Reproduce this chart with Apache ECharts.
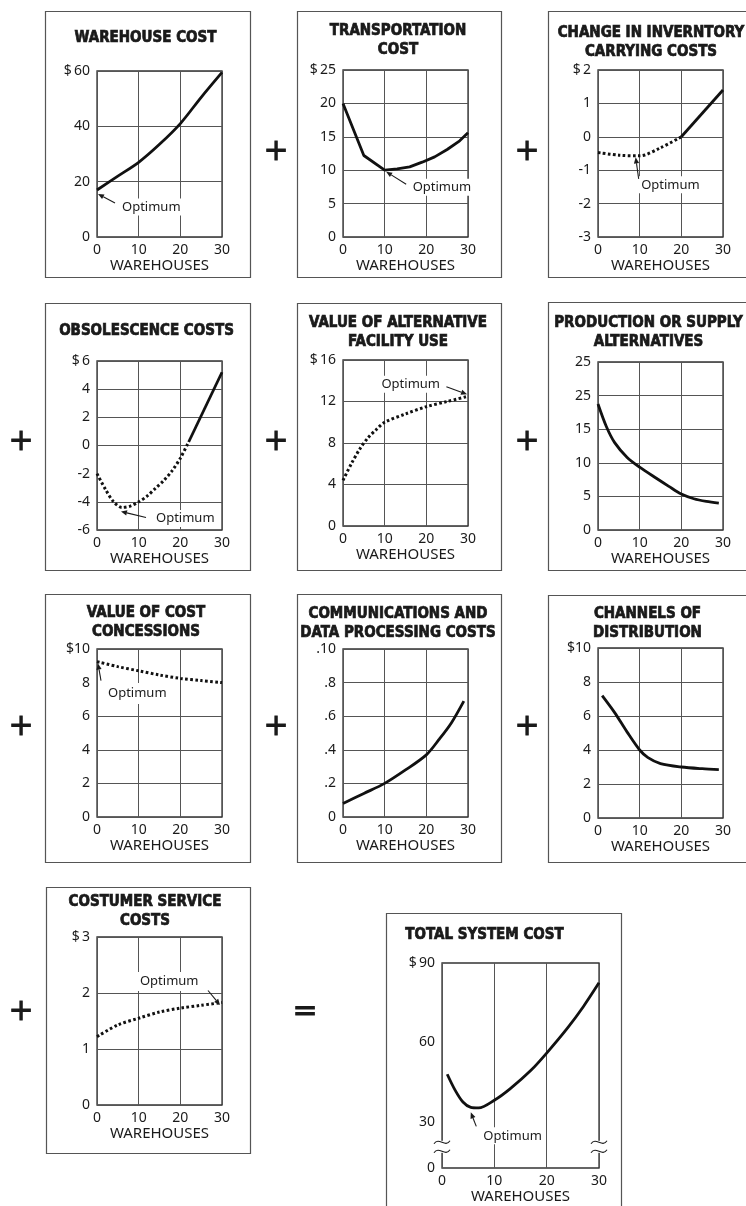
<!DOCTYPE html>
<html><head><meta charset="utf-8">
<script src="https://cdn.jsdelivr.net/npm/echarts@6/dist/echarts.min.js"></script>
<style>html,body{margin:0;padding:0;background:#fff}#c{width:746px;height:1206px}</style>
</head><body><div id="c"></div>
<script>
// ---------------- DATA ----------------
const titles = [
  'WAREHOUSE COST',
  'TRANSPORTATION\nCOST',
  'CHANGE IN INVERNTORY\nCARRYING COSTS',
  'OBSOLESCENCE COSTS',
  'VALUE OF ALTERNATIVE\nFACILITY USE',
  'PRODUCTION OR SUPPLY\nALTERNATIVES',
  'VALUE OF COST\nCONCESSIONS',
  'COMMUNICATIONS AND\nDATA PROCESSING COSTS',
  'CHANNELS OF\nDISTRIBUTION',
  'COSTUMER SERVICE\nCOSTS',
  'TOTAL SYSTEM COST'
];
const xName = 'WAREHOUSES';
const noteText = 'Optimum';
const xTicks = [0, 10, 20, 30];

// 1 warehouse cost
const whX = [0, 5, 10, 15, 20, 25, 30];
const whY = [17, 22, 27, 33.5, 41, 50.5, 59.5];
const whTicks = ['0', '20', '40', '$\u200960'];
// 2 transportation
const trX = [0, 5, 10, 13, 16, 19, 22, 25, 28, 30];
const trY = [20, 12.2, 10, 10.2, 10.5, 11.2, 12, 13.1, 14.4, 15.6];
const trTicks = ['0', '5', '10', '15', '20', '$\u200925'];
// 3 inventory carrying (dotted part, solid part)
const invDotX = [0, 5, 10, 15, 20];
const invDotY = [-0.47, -0.55, -0.57, -0.33, 0];
const invSolX = [20, 30];
const invSolY = [0, 1.4];
const invTicks = ['-3', '-2', '-1', '0', '1', '$\u20092'];
// 4 obsolescence
const obsDotX = [0, 2, 4, 6, 8, 10, 12, 14, 16, 18, 20, 22];
const obsDotY = [-2.0, -3.1, -4.0, -4.4, -4.3, -4.0, -3.6, -3.05, -2.5, -1.8, -0.9, 0.25];
const obsSolX = [22, 30];
const obsSolY = [0.25, 5.2];
const obsTicks = ['-6', '-4', '-2', '0', '2', '4', '$\u20096'];
const obsGrid = [-6, -4, 0, 2, 4, 6];
// 5 alternative facility use
const altX = [0, 2, 4, 6, 8, 10, 15, 20, 25, 30];
const altY = [4.4, 6.0, 7.4, 8.5, 9.3, 10.0, 10.8, 11.5, 12.0, 12.5];
const altTicks = ['0', '4', '8', '12', '$\u200916'];
// 6 production or supply
const proX = [0, 2, 4, 7, 10, 14, 17, 20, 23, 26, 29];
const proY = [18.75, 15.4, 13.0, 10.8, 9.35, 7.7, 6.5, 5.35, 4.65, 4.25, 4.0];
const proTicks = ['0', '5', '10', '15', '25', '25'];
// 7 cost concessions
const conX = [0, 5, 10, 15, 20, 25, 30];
const conY = [9.25, 8.95, 8.7, 8.45, 8.25, 8.12, 8.0];
const conTicks = ['0', '2', '4', '6', '8', '$10'];
const conGrid = [0, 2, 4, 6, 10];
// 8 communications
const comX = [0, 5, 10, 15, 20, 23, 26, 29];
const comY = [0.08, 0.14, 0.2, 0.28, 0.37, 0.46, 0.56, 0.69];
const comTicks = ['0', '.2', '.4', '.6', '.8', '.10'];
// 9 channels
const chX = [1, 4, 7, 10, 12, 15, 20, 25, 29];
const chY = [7.2, 6.2, 5.05, 4.0, 3.55, 3.2, 3.0, 2.9, 2.85];
const chTicks = ['0', '2', '4', '6', '8', '$10'];
// 10 customer service
const csX = [0, 5, 10, 15, 20, 25, 30];
const csY = [1.22, 1.43, 1.55, 1.66, 1.73, 1.78, 1.83];
const csTicks = ['0', '1', '2', '$\u20093'];
// 11 total system cost (broken axis)
const totX = [1, 2.5, 4, 5.5, 7, 10, 13, 17, 20, 24, 27, 30];
const totY = [48, 42, 37.5, 35.5, 35.3, 38.2, 42.5, 49.5, 56, 65.5, 73.5, 82.5];
const totTickVals = [12.6, 30, 60, 90];
const totTicks = ['0', '30', '60', '$\u200990'];
const totBreakY = 20.6;

// ---------------- LAYOUT ----------------
const L = [
  {g: [97, 71, 222, 237], box: [45, 11, 250, 277], t: [145.5, 38.5], min: 0, max: 60, iv: 20, ticks: whTicks},
  {g: [343, 70, 468, 237], box: [297, 11, 501, 277], t: [398, 40.5], min: 0, max: 25, iv: 5, ticks: trTicks},
  {g: [598, 70, 723, 237], box: [548, 11, 770, 277], t: [651, 42.5], min: -3, max: 2, iv: 1, ticks: invTicks},
  {g: [97, 361, 222, 530], box: [45, 303, 250, 570], t: [146.5, 331], min: -6, max: 6, iv: 2, ticks: obsTicks, grid: obsGrid},
  {g: [343, 360, 468, 526], box: [297, 303, 501, 570], t: [398, 333], min: 0, max: 16, iv: 4, ticks: altTicks},
  {g: [598, 362, 723, 530], box: [548, 302, 770, 570], t: [648.5, 333], min: 0, max: 25, iv: 5, ticks: proTicks},
  {g: [97, 649, 222, 817], box: [45, 594, 250, 862], t: [146, 623], min: 0, max: 10, iv: 2, ticks: conTicks, grid: conGrid},
  {g: [343, 649, 468, 817], box: [297, 594, 501, 862], t: [398, 624], min: 0, max: 1, iv: 0.2, ticks: comTicks},
  {g: [598, 648, 723, 818], box: [548, 595, 770, 862], t: [647.5, 623.5], min: 0, max: 10, iv: 2, ticks: chTicks},
  {g: [97, 937, 222, 1105], box: [46, 887, 250, 1153], t: [145, 912], min: 0, max: 3, iv: 1, ticks: csTicks},
  {g: [442, 963, 599, 1168], box: [386, 913, 621, 1230], t: [484.5, 935], min: 12.6, max: 90, ticks: totTicks, custom: totTickVals, noHSplit: true}
];
const seriesDef = [
  [[whX, whY, false]],
  [[trX, trY, false, true]],
  [[invDotX, invDotY, true], [invSolX, invSolY, false, true]],
  [[obsDotX, obsDotY, true], [obsSolX, obsSolY, false, true]],
  [[altX, altY, true]],
  [[proX, proY, false]],
  [[conX, conY, true]],
  [[comX, comY, false]],
  [[chX, chY, false]],
  [[csX, csY, true]],
  [[totX, totY, false]]
];
const signs = [
  ['+', 276, 152], ['+', 527, 152],
  ['+', 21, 442], ['+', 276, 442], ['+', 527, 442],
  ['+', 21, 727], ['+', 276, 727], ['+', 527, 727],
  ['+', 21, 1012], ['=', 305, 1012]
];
const notes = [
  {g: 0, pt: [whX[0], whY[0]], tip: [1, 4], tail: [18, 13], lab: [22, 17], al: 'left'},
  {g: 1, pt: [trX[2], trY[2]], tip: [1.5, 1.5], tail: [21.5, 14], lab: [25, 17], al: 'left'},
  {g: 2, pt: [invDotX[2], invDotY[2]], tip: [-4, 1.5], tail: [-1, 23], lab: [-1.5, 29], al: 'left'},
  {g: 3, pt: [obsDotX[3], obsDotY[3]], tip: [-1, 4], tail: [24, 10], lab: [31, 11], al: 'left'},
  {g: 4, pt: [altX[9], altY[9]], tip: [-1, -2], tail: [-21.6, -9.6], lab: [-25, -12], al: 'right'},
  {g: 6, pt: [conX[0], conY[0]], tip: [1, 2], tail: [4, 19], lab: [4, 32], al: 'left', pad: [4, 3, 4, 7]},
  {g: 9, pt: [csX[6], csY[6]], tip: [-2, 2.5], tail: [-14, -12], lab: [-20.5, -21], al: 'right', pad: [3, 3, 3, 10]},
  {g: 10, pt: [totX[3], totY[3]], tip: [0, 5], tail: [5.5, 19], lab: [9.5, 28.5], al: 'left'}
];

const LBL_FONT = '"Noto Sans", "DejaVu Sans", sans-serif';
const TTL_FONT = '"DejaVu Sans Condensed", "DejaVu Sans", sans-serif';
const INK = '#1a1a1a';

const chart = echarts.init(document.getElementById('c'), null, {renderer: 'canvas', width: 746, height: 1206});

const grids = [], xAxes = [], yAxes = [], series = [];
L.forEach((l, i) => {
  grids.push({left: l.g[0], top: l.g[1], width: l.g[2] - l.g[0], height: l.g[3] - l.g[1],
    show: true, borderColor: '#333', borderWidth: 1.3, backgroundColor: 'transparent',
    containLabel: false, outerBoundsMode: 'none'});
  xAxes.push({gridIndex: i, type: 'value', min: 0, max: 30, interval: 10,
    axisLine: {show: false}, axisTick: {show: false},
    axisLabel: {margin: 6, color: INK, fontSize: 14, fontFamily: LBL_FONT, showMinLabel: true, showMaxLabel: true,
      formatter: v => String(xTicks[Math.round(v / 10)])},
    splitLine: {show: true, lineStyle: {color: '#555', width: 1}},
    name: xName, nameLocation: 'middle', nameGap: 21,
    nameTextStyle: {color: INK, fontSize: 15, fontFamily: LBL_FONT}});
  const y = {gridIndex: i, type: 'value', min: l.min, max: l.max,
    axisLine: {show: false},
    axisTick: {show: false},
    axisLabel: {margin: 7, color: INK, fontSize: 14, fontFamily: LBL_FONT, showMinLabel: true, showMaxLabel: true},
    splitLine: {show: !l.noHSplit, lineStyle: {color: '#555', width: 1}}};
  if (l.custom) {
    y.axisLabel.customValues = l.custom;
    y.axisTick.customValues = l.custom;
    y.axisLabel.formatter = v => l.ticks[l.custom.findIndex(c => Math.abs(c - v) < 1e-6)];
  } else {
    y.interval = l.iv;
    y.axisLabel.formatter = v => l.ticks[Math.round((v - l.min) / l.iv)];
    if (l.grid) {
      y.axisTick.customValues = l.grid;
      const all = [];
      for (let k = 0; k < l.ticks.length; k++) all.push(l.min + k * l.iv);
      y.axisLabel.customValues = all;
    }
  }
  yAxes.push(y);
  seriesDef[i].forEach(s => {
    series.push({type: 'line', xAxisIndex: i, yAxisIndex: i, silent: true,
      data: s[0].map((x, k) => [x, s[1][k]]),
      symbol: 'none', showSymbol: false, smooth: s[3] ? false : 0.3, z: 5,
      lineStyle: {color: '#111', width: s[2] ? 3 : 2.8, type: s[2] ? [2.6, 2.4] : 'solid', cap: 'butt'}});
  });
});

chart.setOption({animation: false, backgroundColor: '#fff', grid: grids, xAxis: xAxes, yAxis: yAxes, series: series});

// ---------------- DECORATION ----------------
const gfx = [];
L.forEach((l, i) => {
  const b = l.box;
  gfx.push({type: 'rect', shape: {x: b[0] + 0.5, y: b[1] + 0.5, width: b[2] - b[0], height: b[3] - b[1]},
    style: {fill: 'none', stroke: '#555', lineWidth: 1.2}, z: 1, silent: true});
  gfx.push({type: 'text', x: l.t[0], y: l.t[1], z: 10, silent: true,
    style: {text: titles[i], fill: INK, stroke: INK, lineWidth: 0.7, fontSize: 15, fontWeight: 'bold', fontFamily: TTL_FONT,
      align: 'center', verticalAlign: 'middle', textAlign: 'center', textVerticalAlign: 'middle', lineHeight: 19}});
});
signs.forEach(s => {
  gfx.push({type: 'text', x: s[1], y: s[2], z: 10, silent: true,
    style: {text: s[0], fill: INK, stroke: INK, lineWidth: 0.8, fontSize: 30, fontFamily: '"DejaVu Sans", sans-serif',
      align: 'center', verticalAlign: 'middle', textAlign: 'center', textVerticalAlign: 'middle'}});
});
notes.forEach(n => {
  const p = chart.convertToPixel({gridIndex: n.g}, n.pt);
  const tip = [p[0] + n.tip[0], p[1] + n.tip[1]];
  const tail = [p[0] + n.tail[0], p[1] + n.tail[1]];
  const dx = tip[0] - tail[0], dy = tip[1] - tail[1];
  const len = Math.hypot(dx, dy), ux = dx / len, uy = dy / len;
  const hl = 6, hw = 2.6;
  const base = [tip[0] - ux * hl, tip[1] - uy * hl];
  gfx.push({type: 'text', x: p[0] + n.lab[0], y: p[1] + n.lab[1], z: 20, silent: true,
    style: {text: noteText, fill: INK, fontSize: 13, fontFamily: LBL_FONT, backgroundColor: '#fff',
      padding: n.pad || [2, 3, 2, 3], align: n.al, verticalAlign: 'middle', textAlign: n.al, textVerticalAlign: 'middle'}});
  gfx.push({type: 'line', z: 21, silent: true, shape: {x1: tail[0], y1: tail[1], x2: base[0], y2: base[1]},
    style: {stroke: INK, lineWidth: 1.1}});
  gfx.push({type: 'polygon', z: 21, silent: true,
    shape: {points: [tip, [base[0] - uy * hw, base[1] + ux * hw], [base[0] + uy * hw, base[1] - ux * hw]]},
    style: {fill: INK}});
});
[0, 30].forEach(xv => {
  const p = chart.convertToPixel({gridIndex: 10}, [xv, totBreakY]);
  gfx.push({type: 'rect', z: 20, silent: true, shape: {x: p[0] - 3, y: p[1] - 6, width: 6, height: 12}, style: {fill: '#fff'}});
  [-4.5, 4.5].forEach(o => {
    gfx.push({type: 'bezierCurve', z: 21, silent: true,
      shape: {x1: p[0] - 8, y1: p[1] + o + 1.5, x2: p[0] + 8, y2: p[1] + o - 1.5,
        cpx1: p[0] - 3, cpy1: p[1] + o - 6, cpx2: p[0] + 3, cpy2: p[1] + o + 6},
      style: {stroke: INK, lineWidth: 1.1, fill: 'none'}});
  });
});
chart.setOption({graphic: {elements: gfx}});
</script>
</body></html>
